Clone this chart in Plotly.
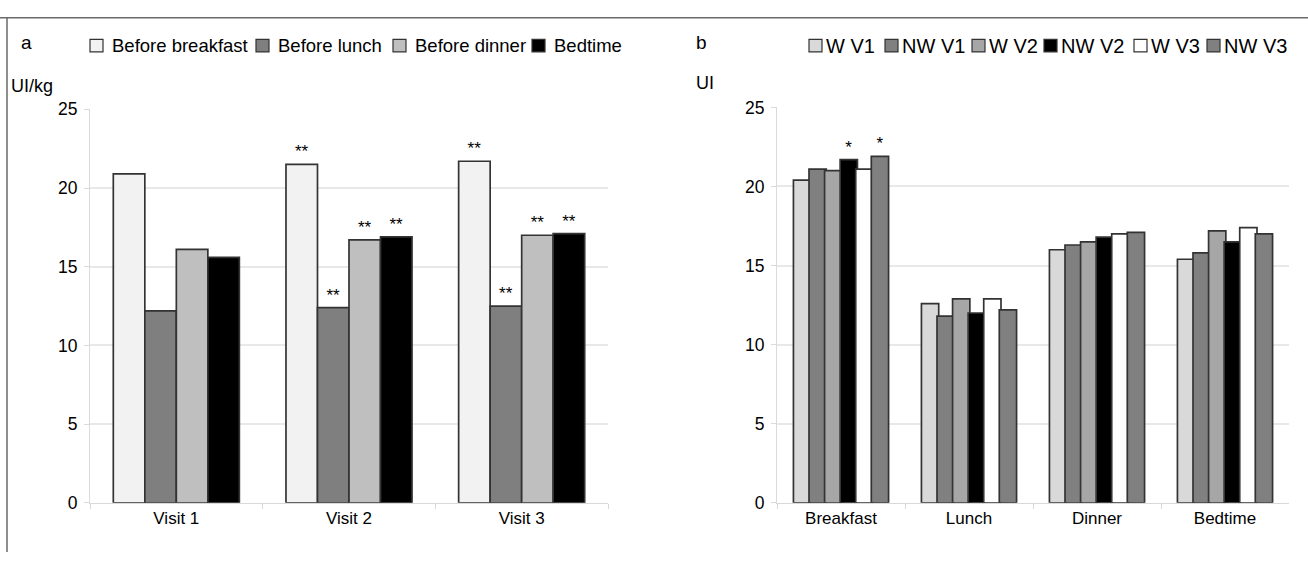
import plotly.graph_objects as go

# ---- Panel a data ----
visits = ["Visit 1", "Visit 2", "Visit 3"]
a_series = ["Before breakfast", "Before lunch", "Before dinner", "Bedtime"]
a_colors = ["#f2f2f2", "#7f7f7f", "#bfbfbf", "#000000"]
a_breakfast = [20.9, 21.5, 21.7]
a_lunch = [12.2, 12.4, 12.5]
a_dinner = [16.1, 16.7, 17.0]
a_bedtime = [15.6, 16.9, 17.1]
a_marks_breakfast = ["", "**", "**"]
a_marks_lunch = ["", "**", "**"]
a_marks_dinner = ["", "**", "**"]
a_marks_bedtime = ["", "**", "**"]

# ---- Panel b data ----
meals = ["Breakfast", "Lunch", "Dinner", "Bedtime"]
b_series = ["W V1", "NW V1", "W V2", "NW V2", "W V3", "NW V3"]
b_colors = ["#d9d9d9", "#808080", "#a6a6a6", "#000000", "#ffffff", "#808080"]
b_w_v1 = [20.4, 12.6, 16.0, 15.4]
b_nw_v1 = [21.1, 11.8, 16.3, 15.8]
b_w_v2 = [21.0, 12.9, 16.5, 17.2]
b_nw_v2 = [21.7, 12.0, 16.8, 16.5]
b_w_v3 = [21.1, 12.9, 17.0, 17.4]
b_nw_v3 = [21.9, 12.2, 17.1, 17.0]
b_marks_nw_v2 = ["*", "", "", ""]
b_marks_nw_v3 = ["*", "", "", ""]

yticks = [0, 5, 10, 15, 20, 25]

FONT = "Liberation Sans, Arial, sans-serif"
OUTLINE = "#333333"
W, H = 1308, 562


def px_x(p):
    return p / W


def px_y(p):
    return (H - p) / H


fig = go.Figure()

a_vals = [a_breakfast, a_lunch, a_dinner, a_bedtime]
a_marks = [a_marks_breakfast, a_marks_lunch, a_marks_dinner, a_marks_bedtime]
for name, col, vals, marks in zip(a_series, a_colors, a_vals, a_marks):
    fig.add_trace(go.Bar(
        x=visits, y=vals, name=name, xaxis="x", yaxis="y",
        marker=dict(color=col, line=dict(color=OUTLINE, width=1.7)),
        text=marks, textposition="outside", cliponaxis=False,
        textfont=dict(size=17, color="#000000", family=FONT),
        showlegend=False,
    ))

b_vals = [b_w_v1, b_nw_v1, b_w_v2, b_nw_v2, b_w_v3, b_nw_v3]
b_marks = [[""] * 4, [""] * 4, [""] * 4, b_marks_nw_v2, [""] * 4, b_marks_nw_v3]
n_b = len(b_series)
b_gap = 0.19
for name, col, vals, marks in zip(b_series, b_colors, b_vals, b_marks):
    fig.add_trace(go.Bar(
        x=meals, y=vals, name=name, xaxis="x2", yaxis="y2",
        width=(1 - b_gap) / n_b,
        marker=dict(color=col, line=dict(color=OUTLINE, width=1.7)),
        text=marks, textposition="outside", cliponaxis=False,
        textfont=dict(size=17, color="#000000", family=FONT),
        showlegend=False,
    ))

common_x = dict(showgrid=False, showline=True, linecolor="#d9d9d9", linewidth=1,
                ticks="outside", tickson="boundaries", ticklen=5, tickcolor="#d9d9d9",
                tickfont=dict(size=17, color="#000000", family=FONT), fixedrange=True)
common_y = dict(range=[0, 25], tickvals=yticks, showgrid=True, gridcolor="#e8e8e8", gridwidth=1.5,
                showline=True, linecolor="#dadada", linewidth=1, zeroline=False,
                ticks="outside", ticklen=5, tickcolor="#dadada", ticklabelstandoff=3,
                tickfont=dict(size=17.5, color="#000000", family=FONT), fixedrange=True)

fig.update_layout(
    width=W, height=H,
    margin=dict(l=0, r=0, t=0, b=0),
    paper_bgcolor="white", plot_bgcolor="white",
    font=dict(family=FONT, size=17, color="#000000"),
    barmode="group",
    bargap=0.27,
    xaxis=dict(domain=[px_x(90), px_x(608)], anchor="y", **common_x),
    yaxis=dict(domain=[px_y(511), px_y(103)], anchor="x", **common_y),
    xaxis2=dict(domain=[px_x(777), px_x(1289)], anchor="y2", **common_x),
    yaxis2=dict(domain=[px_y(511), px_y(101)], anchor="x2", **common_y),
    showlegend=False,
)

# ---- Legends (drawn as boxes + real text) ----
a_leg_x = [90, 256, 393, 532]
b_leg_x = [809, 885, 972, 1044, 1134, 1207]
LEG_Y = 37
BOX = 13

for name, col, x0 in zip(a_series, a_colors, a_leg_x):
    fig.add_shape(type="rect", xref="paper", yref="paper",
                  x0=px_x(x0), x1=px_x(x0 + BOX), y0=px_y(LEG_Y + BOX / 2), y1=px_y(LEG_Y - BOX / 2),
                  fillcolor=col, line=dict(color=OUTLINE, width=1.2))
    fig.add_annotation(text=name, x=px_x(x0 + BOX + 7), y=px_y(LEG_Y), xref="paper", yref="paper",
                       showarrow=False, xanchor="left", yanchor="middle",
                       font=dict(size=18.5, family=FONT, color="#000000"))

for name, col, x0 in zip(b_series, b_colors, b_leg_x):
    fig.add_shape(type="rect", xref="paper", yref="paper",
                  x0=px_x(x0), x1=px_x(x0 + BOX), y0=px_y(LEG_Y + BOX / 2), y1=px_y(LEG_Y - BOX / 2),
                  fillcolor=col, line=dict(color=OUTLINE, width=1.2))
    fig.add_annotation(text=name, x=px_x(x0 + BOX + 2), y=px_y(LEG_Y), xref="paper", yref="paper",
                       showarrow=False, xanchor="left", yanchor="middle",
                       font=dict(size=20, family=FONT, color="#000000"))

fig.add_annotation(text="a", x=px_x(19), y=px_y(34), xref="paper", yref="paper",
                   showarrow=False, xanchor="left", yanchor="middle", font=dict(size=19))
fig.add_annotation(text="UI/kg", x=px_x(9), y=px_y(79), xref="paper", yref="paper",
                   showarrow=False, xanchor="left", yanchor="middle", font=dict(size=18))
fig.add_annotation(text="b", x=px_x(694), y=px_y(34), xref="paper", yref="paper",
                   showarrow=False, xanchor="left", yanchor="middle", font=dict(size=19))
fig.add_annotation(text="UI", x=px_x(694), y=px_y(76), xref="paper", yref="paper",
                   showarrow=False, xanchor="left", yanchor="middle", font=dict(size=18))

# frame lines (top border and left border)
fig.add_shape(type="line", xref="paper", yref="paper", x0=0, x1=1, y0=px_y(8), y1=px_y(8),
              line=dict(color="#6a6a6a", width=1.5))
fig.add_shape(type="line", xref="paper", yref="paper", x0=px_x(7), x1=px_x(7), y0=0, y1=px_y(8),
              line=dict(color="#6a6a6a", width=1.5))

fig.write_html(
    "out.html",
    config={"displayModeBar": False},
    post_script="document.body.style.margin='0px';document.body.style.overflow='hidden';",
)
